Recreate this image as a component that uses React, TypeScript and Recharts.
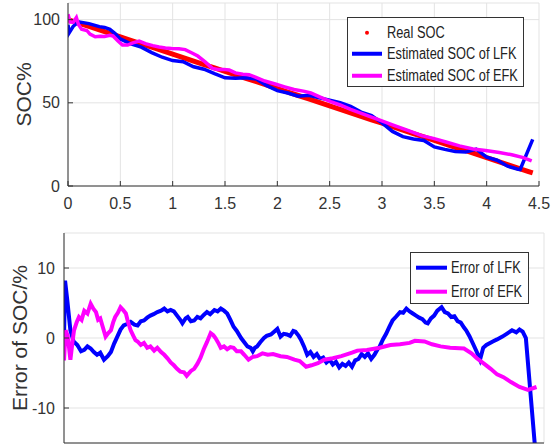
import { LineChart, Line, XAxis, YAxis, CartesianGrid, Legend, Label } from "recharts";

const FONT = "'Liberation Sans', Arial, Helvetica, sans-serif";
const axisColor = "#333";
const gridColor = "#e3e3e3";

// shared x ticks (time, h)
const xTicks = [0, 0.5, 1, 1.5, 2, 2.5, 3, 3.5, 4, 4.5];
const socTicks = [0, 50, 100];
const errTicks = [-10, 0, 10];

// top plot: real SOC
const realT = [0, 0.1, 0.2, 0.3, 0.4, 0.5, 0.6, 0.7, 0.8, 0.9, 1.0, 1.1, 1.2, 1.3, 1.4, 1.5, 1.6, 1.7, 1.8, 1.9, 2.0, 2.1, 2.2, 2.3, 2.4, 2.5, 2.6, 2.7, 2.8, 2.9, 3.0, 3.1, 3.2, 3.3, 3.4, 3.5, 3.6, 3.7, 3.8, 3.9, 4.0, 4.1, 4.2, 4.3, 4.4, 4.44];
const realSoc = [100, 97.9, 95.9, 93.8, 91.7, 89.6, 87.6, 85.5, 83.4, 81.3, 79.3, 77.2, 75.1, 73.0, 71.0, 68.9, 66.8, 64.7, 62.7, 60.6, 58.5, 56.4, 54.4, 52.3, 50.2, 48.1, 46.1, 44.0, 41.9, 39.8, 37.8, 35.7, 33.6, 31.5, 29.5, 27.4, 25.3, 23.2, 21.2, 19.1, 17.0, 14.9, 12.9, 10.8, 8.7, 7.9];

// top plot: LFK estimate
const lfkT = [0, 0.01, 0.05, 0.1, 0.2, 0.3, 0.35, 0.4, 0.45, 0.5, 0.6, 0.7, 0.8, 0.9, 1.0, 1.1, 1.2, 1.3, 1.4, 1.5, 1.6, 1.7, 1.8, 1.9, 2.0, 2.1, 2.2, 2.3, 2.4, 2.5, 2.6, 2.7, 2.8, 2.9, 3.0, 3.1, 3.2, 3.3, 3.4, 3.5, 3.6, 3.7, 3.8, 3.9, 4.0, 4.1, 4.2, 4.3, 4.32, 4.44];
const lfkSoc = [97, 92, 96, 98.7, 97.6, 95.8, 95.3, 94.2, 91.6, 88.4, 85.5, 83.5, 80.2, 77.4, 75.4, 74.7, 71.7, 70.2, 67.5, 65.0, 64.7, 65.0, 64.3, 60.3, 57.3, 55.9, 54.0, 54.5, 53.0, 51.6, 50.1, 47.9, 44.4, 42.4, 38.0, 32.8, 29.7, 28.3, 27.4, 23.5, 22.0, 20.7, 20.4, 22.2, 17.3, 15.5, 11.9, 10.1, 9.9, 28];

// top plot: EFK estimate
const efkT = [0, 0.02, 0.05, 0.08, 0.1, 0.13, 0.18, 0.21, 0.26, 0.31, 0.35, 0.4, 0.43, 0.48, 0.52, 0.57, 0.62, 0.68, 0.74, 0.81, 0.87, 0.93, 0.99, 1.06, 1.12, 1.18, 1.24, 1.31, 1.38, 1.43, 1.49, 1.54, 1.6, 1.67, 1.73, 1.79, 1.88, 1.98, 2.07, 2.16, 2.26, 2.32, 2.42, 2.51, 2.6, 2.7, 2.79, 2.88, 2.96, 3.12, 3.24, 3.38, 3.49, 3.62, 3.74, 3.87, 3.99, 4.12, 4.24, 4.35, 4.43];
const efkSoc = [103.2, 98.6, 98.5, 101.3, 97.1, 94.3, 93.5, 91.3, 89.7, 90.0, 89.9, 90.6, 90.2, 87.0, 84.8, 84.7, 86.0, 87.1, 85.6, 84.4, 83.6, 82.9, 82.6, 82.5, 82.0, 80.1, 78.1, 74.6, 70.7, 70.0, 70.1, 69.7, 68.0, 67.2, 66.9, 65.5, 63.1, 61.3, 59.6, 58.0, 56.9, 55.9, 53.1, 50.7, 48.7, 46.1, 44.0, 41.9, 40.0, 36.3, 33.6, 30.3, 28.6, 26.3, 24.1, 22.3, 21.4, 20.1, 18.8, 17.1, 15.1];

// bottom plot: LFK error
const lfkErrT = [0, 0.01, 0.03, 0.06, 0.09, 0.125, 0.16, 0.19, 0.22, 0.25, 0.28, 0.31, 0.34, 0.375, 0.41, 0.44, 0.47, 0.5, 0.53, 0.56, 0.59, 0.625, 0.66, 0.69, 0.72, 0.75, 0.78, 0.81, 0.84, 0.875, 0.91, 0.94, 0.97, 1.0, 1.03, 1.06, 1.09, 1.11, 1.14, 1.16, 1.19, 1.22, 1.25, 1.28, 1.31, 1.34, 1.37, 1.41, 1.44, 1.47, 1.5, 1.53, 1.56, 1.59, 1.62, 1.66, 1.69, 1.72, 1.75, 1.77, 1.79, 1.81, 1.84, 1.875, 1.9, 1.94, 1.97, 2.0, 2.03, 2.06, 2.09, 2.12, 2.15, 2.17, 2.2, 2.22, 2.25, 2.28, 2.31, 2.34, 2.37, 2.4, 2.43, 2.46, 2.49, 2.52, 2.55, 2.58, 2.61, 2.64, 2.67, 2.7, 2.73, 2.76, 2.79, 2.82, 2.85, 2.88, 2.91, 2.94, 2.96, 2.99, 3.02, 3.05, 3.08, 3.11, 3.15, 3.18, 3.21, 3.24, 3.27, 3.3, 3.33, 3.36, 3.39, 3.41, 3.44, 3.47, 3.5, 3.54, 3.57, 3.6, 3.63, 3.66, 3.69, 3.72, 3.75, 3.77, 3.8, 3.84, 3.87, 3.9, 3.93, 3.96, 4.02, 4.06, 4.11, 4.15, 4.2, 4.24, 4.27, 4.3, 4.33, 4.44];
const lfkErr = [0, 8.2, 5.5, 1.1, -0.5, -1.0, -1.9, -1.7, -1.2, -1.5, -2.0, -2.4, -2.1, -3.1, -2.6, -2.0, -0.8, 0.2, 1.2, 1.8, 2.0, 2.3, 1.9, 1.8, 2.4, 2.5, 2.9, 3.2, 3.4, 3.7, 3.9, 4.2, 3.8, 4.0, 3.8, 3.2, 2.6, 2.1, 2.8, 3.0, 2.4, 2.5, 3.0, 2.8, 3.3, 3.7, 3.4, 4.0, 3.8, 4.2, 3.9, 3.5, 2.6, 1.6, 1.0, 0.0, -0.6, -1.2, -1.4, -1.9, -1.4, -1.2, -0.6, 0.0, 0.3, 0.5, 0.9, 1.3, 0.2, 0.6, 0.5, 0.3, 1.0, 0.9, 0.3, -0.2, -1.2, -2.4, -2.0, -2.7, -2.3, -3.0, -2.8, -3.5, -3.1, -3.8, -3.4, -4.2, -3.7, -4.0, -3.5, -4.1, -3.2, -3.0, -2.3, -2.7, -2.2, -3.0, -2.4, -1.6, -1.2, -0.2, 0.6, 1.6, 2.5, 3.0, 3.7, 3.6, 4.2, 3.8, 3.5, 3.2, 2.9, 2.7, 2.2, 2.1, 2.8, 3.2, 3.9, 4.4, 3.7, 3.5, 3.0, 3.1, 2.4, 2.2, 1.5, 1.1, 0.3, -1.0, -2.0, -3.1, -1.4, -1.0, -0.5, -0.2, 0.2, 0.6, 1.1, 0.8, 1.2, 0.9, 0.0, -20];

// bottom plot: EFK error
const efkErrT = [0, 0.015, 0.035, 0.06, 0.08, 0.094, 0.12, 0.14, 0.165, 0.19, 0.22, 0.25, 0.275, 0.3, 0.32, 0.34, 0.365, 0.39, 0.415, 0.44, 0.46, 0.48, 0.505, 0.53, 0.555, 0.58, 0.6, 0.625, 0.65, 0.67, 0.69, 0.72, 0.75, 0.78, 0.81, 0.845, 0.875, 0.91, 0.94, 0.97, 1.0, 1.03, 1.06, 1.09, 1.125, 1.15, 1.19, 1.22, 1.25, 1.28, 1.31, 1.34, 1.375, 1.4, 1.42, 1.45, 1.47, 1.5, 1.53, 1.56, 1.59, 1.62, 1.66, 1.69, 1.73, 1.77, 1.81, 1.86, 1.91, 1.96, 2.03, 2.09, 2.16, 2.21, 2.27, 2.32, 2.38, 2.44, 2.52, 2.6, 2.7, 2.75, 2.84, 2.96, 3.06, 3.15, 3.24, 3.29, 3.38, 3.45, 3.53, 3.62, 3.75, 3.82, 3.87, 3.94, 4.0, 4.06, 4.12, 4.19, 4.27, 4.35, 4.43];
const efkErr = [-3.2, 1.1, 0.3, -3.1, -0.5, 1.1, 2.3, 3.0, 2.6, 3.9, 3.5, 4.9, 4.2, 3.7, 2.6, 2.8, 1.5, 0.2, 0.7, 1.1, 2.2, 3.0, 3.6, 4.4, 4.0, 3.5, 2.3, 1.1, 0.3, -0.3, -0.5, -1.0, -0.7, -1.4, -1.2, -1.8, -1.4, -2.0, -2.4, -2.9, -3.5, -3.9, -4.4, -4.8, -4.9, -5.4, -4.7, -4.4, -3.7, -2.8, -1.6, -0.6, 0.7, 0.4, 0.0, -0.8, -1.4, -1.2, -1.6, -1.3, -1.4, -1.9, -1.9, -2.4, -3.1, -2.7, -2.6, -2.2, -2.4, -2.3, -2.6, -2.7, -3.1, -3.3, -4.1, -3.9, -3.6, -3.1, -2.9, -2.6, -2.1, -1.8, -1.7, -1.4, -1.0, -0.9, -0.7, -0.4, -0.5, -0.9, -1.2, -1.4, -1.5, -2.2, -2.9, -3.7, -4.4, -5.2, -5.6, -6.3, -7.0, -7.4, -7.0];

const topNames = ["Real SOC", "Estimated SOC of LFK", "Estimated SOC of EFK"];
const botNames = ["Error of LFK", "Error of EFK"];

const pts = (t: number[], v: number[]) => t.map((x, i) => ({ t: x, v: v[i] }));

type Entry = { name: string; color: string; dot?: boolean };

function LegendBox({ entries, width, rowH, padTop, x0, x1, textX }: { entries: Entry[]; width: number; rowH: number; padTop: number; x0: number; x1: number; textX: number }) {
  return (
    <div style={{ width, boxSizing: "border-box", border: `1px solid ${axisColor}`, background: "#fff", paddingTop: padTop, fontFamily: FONT }}>
      {entries.map((e) => (
        <div key={e.name} style={{ position: "relative", height: rowH }}>
          <svg width={textX} height={rowH} style={{ position: "absolute", left: 0, top: 0 }}>
            {e.dot ? (
              <circle cx={(x0 + x1) / 2} cy={rowH / 2} r={2} fill={e.color} />
            ) : (
              <line x1={x0} x2={x1} y1={rowH / 2} y2={rowH / 2} stroke={e.color} strokeWidth={4} />
            )}
          </svg>
          <span style={{ position: "absolute", left: textX, top: 0, lineHeight: `${rowH}px`, fontSize: 16, color: "#222", whiteSpace: "nowrap", transform: "scaleX(0.8)", transformOrigin: "left center" }}>
            {e.name}
          </span>
        </div>
      ))}
    </div>
  );
}

export default function App() {
  const tickStyle = { fontSize: 16, fill: axisColor, fontFamily: FONT };
  return (
    <div style={{ position: "absolute", left: 0, top: 0, width: 557, height: 445, background: "#fff", overflow: "hidden", fontFamily: FONT }}>
      <div style={{ position: "absolute", left: 0, top: 0 }}>
        <LineChart width={557} height={215} margin={{ top: 3, right: 18, bottom: 0, left: 0 }}>
          <CartesianGrid xAxisId="b" yAxisId="l" stroke={gridColor} />
          <XAxis xAxisId="b" type="number" dataKey="t" domain={[0, 4.5]} ticks={xTicks} height={29} tickSize={-5} tickMargin={17} stroke={axisColor} tick={tickStyle} allowDataOverflow />
          <XAxis xAxisId="t" orientation="top" type="number" dataKey="t" domain={[0, 4.5]} ticks={xTicks} height={0} mirror tick={false} tickSize={5} stroke={axisColor} allowDataOverflow />
          <YAxis yAxisId="l" type="number" domain={[0, 110]} ticks={socTicks} width={68} tickSize={-5} tickMargin={13} stroke={axisColor} tick={tickStyle} allowDataOverflow>
            <Label value="SOC%" angle={-90} position="center" dx={-10} style={{ fontSize: 21, fill: axisColor, fontFamily: FONT }} />
          </YAxis>
          <YAxis yAxisId="r" orientation="right" type="number" domain={[0, 110]} ticks={socTicks} width={0} mirror tick={false} tickSize={5} stroke={axisColor} allowDataOverflow />
          <Legend
            layout="vertical"
            align="center"
            verticalAlign="middle"
            wrapperStyle={{ left: 347, top: 17, width: 177 }}
            content={() => (
              <LegendBox
                entries={[
                  { name: topNames[0], color: "#ff0000", dot: true },
                  { name: topNames[1], color: "#0000ff" },
                  { name: topNames[2], color: "#ff00ff" },
                ]}
                width={177}
                rowH={21.5}
                padTop={3.5}
                x0={4}
                x1={34}
                textX={39}
              />
            )}
          />
          <Line xAxisId="b" yAxisId="l" data={pts(realT, realSoc)} dataKey="v" name={topNames[0]} stroke="#ff0000" strokeWidth={5} dot={false} isAnimationActive={false} />
          <Line xAxisId="b" yAxisId="l" data={pts(lfkT, lfkSoc)} dataKey="v" name={topNames[1]} stroke="#0000ff" strokeWidth={3.5} dot={false} isAnimationActive={false} />
          <Line xAxisId="b" yAxisId="l" data={pts(efkT, efkSoc)} dataKey="v" name={topNames[2]} stroke="#ff00ff" strokeWidth={3.5} dot={false} isAnimationActive={false} />
        </LineChart>
      </div>
      <div style={{ position: "absolute", left: 0, top: 220 }}>
        <LineChart width={557} height={225} margin={{ top: 13, right: 13, bottom: 0, left: 0 }}>
          <CartesianGrid xAxisId="b" yAxisId="l" stroke={gridColor} />
          <XAxis xAxisId="b" type="number" dataKey="t" domain={[0, 4.5]} ticks={xTicks} height={2} tick={false} tickSize={-5} stroke={axisColor} allowDataOverflow />
          <XAxis xAxisId="t" orientation="top" type="number" dataKey="t" domain={[0, 4.5]} ticks={xTicks} height={0} mirror tick={false} tickSize={5} stroke={axisColor} allowDataOverflow />
          <YAxis yAxisId="l" type="number" domain={[-15, 15]} ticks={errTicks} width={64} tickSize={-5} tickMargin={14} stroke={axisColor} tick={tickStyle} allowDataOverflow>
            <Label value="Error of SOC/%" angle={-90} position="center" dx={-12} style={{ fontSize: 21, fill: axisColor, fontFamily: FONT }} />
          </YAxis>
          <YAxis yAxisId="r" orientation="right" type="number" domain={[-15, 15]} ticks={errTicks} width={0} mirror tick={false} tickSize={5} stroke={axisColor} allowDataOverflow />
          <Legend
            layout="vertical"
            align="center"
            verticalAlign="middle"
            wrapperStyle={{ left: 410, top: 32, width: 119 }}
            content={() => (
              <LegendBox
                entries={[
                  { name: botNames[0], color: "#0000ff" },
                  { name: botNames[1], color: "#ff00ff" },
                ]}
                width={119}
                rowH={23.4}
                padTop={3.3}
                x0={5}
                x1={36}
                textX={40}
              />
            )}
          />
          <Line xAxisId="b" yAxisId="l" data={pts(lfkErrT, lfkErr)} dataKey="v" name={botNames[0]} stroke="#0000ff" strokeWidth={4} dot={false} isAnimationActive={false} />
          <Line xAxisId="b" yAxisId="l" data={pts(efkErrT, efkErr)} dataKey="v" name={botNames[1]} stroke="#ff00ff" strokeWidth={4} dot={false} isAnimationActive={false} />
        </LineChart>
      </div>
    </div>
  );
}
